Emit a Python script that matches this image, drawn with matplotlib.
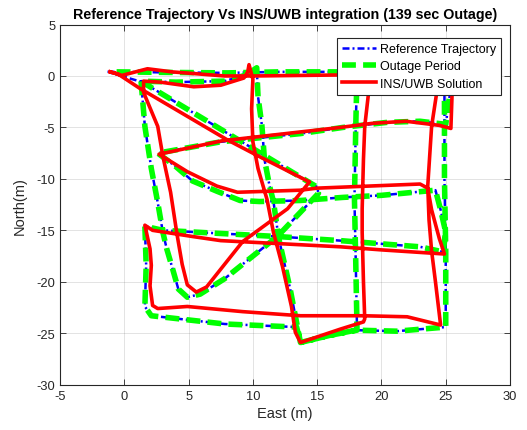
import matplotlib
matplotlib.use("Agg")
import matplotlib.pyplot as plt

plt.rcParams["font.family"] = ["Liberation Sans", "DejaVu Sans"]
plt.rcParams["axes.unicode_minus"] = False

# Reference trajectory (metres)
ref_east = [-1.3, -0.6, 3.0, 8.0, 12.0, 18.0, 25.2, 25.3, 25.0,
            23.0, 20.5, 17.0, 13.7, 7.5, 2.6,
            4.0, 5.3, 7.2, 9.0, 10.5, 13.7, 17.0, 20.0, 24.2,
            24.6, 25.0, 24.8,
            23.0, 16.8, 11.9, 7.4, 3.0, 1.6,
            1.7, 1.6, 2.1, 7.8, 13.4, 13.7, 16.0, 18.0, 21.2, 25.0,
            25.0, 24.9, 24.9, 24.9, 18.1,
            18.0, 17.9, 18.0, 18.1, 16.0, 13.7,
            12.9, 12.0, 11.6, 11.3, 10.9, 10.7, 10.4, 10.3,
            9.5, 7.8, 4.0, 1.3,
            1.6, 2.1, 2.6, 3.0, 3.3, 3.7, 4.2, 4.9, 5.9, 7.8, 11.9, 15.1,
            15.0, 7.8, 1.4, -1.3]
ref_north = [0.4, 0.4, 0.35, 0.3, 0.4, 0.4, 0.4, -2.0, -4.7,
             -4.4, -4.5, -5.0, -5.6, -6.4, -7.5,
             -8.8, -10.2, -11.2, -12.1, -12.2, -12.1, -11.8, -11.6, -11.1,
             -13.0, -15.2, -17.1,
             -16.6, -16.0, -15.6, -15.3, -15.0, -14.6,
             -18.4, -22.4, -23.3, -24.1, -24.4, -25.9, -25.2, -24.7, -24.8, -24.4,
             -17.0, -10.0, -4.7, 0.4, 0.4,
             -5.0, -12.0, -18.0, -24.7, -25.2, -25.9,
             -20.7, -15.7, -12.2, -10.7, -8.1, -4.8, -2.0, 0.8,
             0.1, -0.5, -0.6, -0.5,
             -4.9, -9.0, -12.3, -15.2, -16.8, -18.5, -20.7, -21.5, -21.2, -19.7, -15.6, -11.4,
             -10.8, -5.4, -0.6, 0.4]

# outage covers the reference between these samples
outage_first, outage_last = 1, len(ref_east) - 2

# INS/UWB solution (metres)
sol_east = [-1.1, -0.2, 1.8, 3.7, 7.8, 10.0, 17.0, 25.3, 25.5, 25.4,
            24.5, 21.9, 19.3, 16.8, 7.6, 2.7,
            4.9, 7.2, 8.8, 13.7, 15.0, 19.0, 23.0, 23.6, 23.9, 24.5, 24.9,
            20.0, 16.8, 13.7, 7.5, 5.3, 2.2, 1.6,
            2.0, 2.1, 2.0, 2.2, 2.6, 4.9, 9.2, 13.7, 18.6, 22.0, 24.6,
            24.2, 23.9, 23.7, 23.6, 23.9, 24.3, 24.4, 19.2,
            19.0, 18.7, 18.6, 18.5, 18.5, 18.6, 18.7, 18.6, 16.8, 13.7,
            13.3, 13.0, 12.3, 11.6, 11.1, 10.4, 10.0, 9.9, 10.0, 9.7, 9.6, 9.3,
            7.5, 5.4, 2.8, 1.5,
            1.5, 2.6, 3.0, 3.6, 4.1, 4.5, 4.9, 5.6, 6.4, 9.2, 12.7, 14.4,
            10.3, 8.0, 1.2, -0.5, -1.1]
sol_north = [0.4, 0.05, 0.7, 0.4, 0.0, 0.0, 0.1, 0.3, -1.5, -5.1,
             -4.8, -4.4, -4.6, -5.0, -6.3, -7.6,
             -9.3, -10.7, -11.3, -11.1, -10.9, -10.7, -10.5, -10.9, -13.0, -15.8, -17.3,
             -16.9, -16.6, -16.4, -16.0, -15.6, -15.0, -14.5,
             -16.8, -18.4, -20.4, -22.3, -22.6, -22.4, -22.9, -23.3, -23.3, -23.4, -24.2,
             -20.0, -17.0, -14.0, -10.7, -4.9, -1.6, -0.5, -0.6,
             -1.6, -4.9, -8.1, -12.9, -15.2, -20.0, -23.6, -23.9, -24.6, -25.9,
             -24.9, -22.4, -18.5, -15.2, -12.0, -9.0, -6.4, -3.2, -0.3, 1.1, 0.4, -0.2,
             -0.9, -1.05, -0.6, -0.5,
             -1.6, -4.9, -7.8, -11.3, -15.4, -18.3, -20.3, -21.0, -20.5, -16.1, -12.9, -10.3,
             -7.7, -6.2, -1.2, 0.2, 0.4]

x_ticks = list(range(-5, 31, 5))
y_ticks = list(range(-30, 6, 5))

fig = plt.figure(figsize=(5.27, 4.31), dpi=100)
ax = fig.add_axes([0.1139, 0.1051, 0.8539, 0.8357])

dark = (0.15, 0.15, 0.15)

ax.plot(ref_east, ref_north, color=(0, 0, 1), lw=1.8,
        dashes=(2.8, 1.2, 0.8, 1.2), label="Reference Trajectory")
ax.plot(ref_east[outage_first:outage_last + 1], ref_north[outage_first:outage_last + 1],
        color=(0, 1, 0), lw=4, dashes=(2.5, 1.3), label="Outage Period")
ax.plot(sol_east, sol_north, color=(1, 0, 0), lw=2.6, label="INS/UWB Solution")

ax.set_xlim(-5, 30)
ax.set_ylim(-30, 5)
ax.set_xticks(x_ticks)
ax.set_yticks(y_ticks)
ax.grid(True, color=dark, alpha=0.15, lw=0.6)
ax.set_axisbelow(True)
ax.tick_params(direction="in", length=4, width=0.6, colors=dark, labelsize=9.3,
               top=True, right=True)
for s in ax.spines.values():
    s.set_color(dark)
    s.set_linewidth(0.8)

ax.set_xlabel("East (m)", fontsize=10.5, color=dark, labelpad=3)
ax.set_ylabel("North(m)", fontsize=10.5, color=dark, labelpad=7)
ax.set_title("Reference Trajectory Vs INS/UWB integration (139 sec Outage)",
             fontsize=10.3, fontweight="bold", pad=5)

leg = ax.legend(loc="upper right", bbox_to_anchor=(0.98, 0.9625), fontsize=9,
                handlelength=2.7, handletextpad=0.35, borderpad=0.4,
                labelspacing=0.42, borderaxespad=0, fancybox=False, framealpha=1)
leg.get_frame().set_edgecolor(dark)
leg.get_frame().set_linewidth(0.8)

fig.savefig("out.png", dpi=100)
